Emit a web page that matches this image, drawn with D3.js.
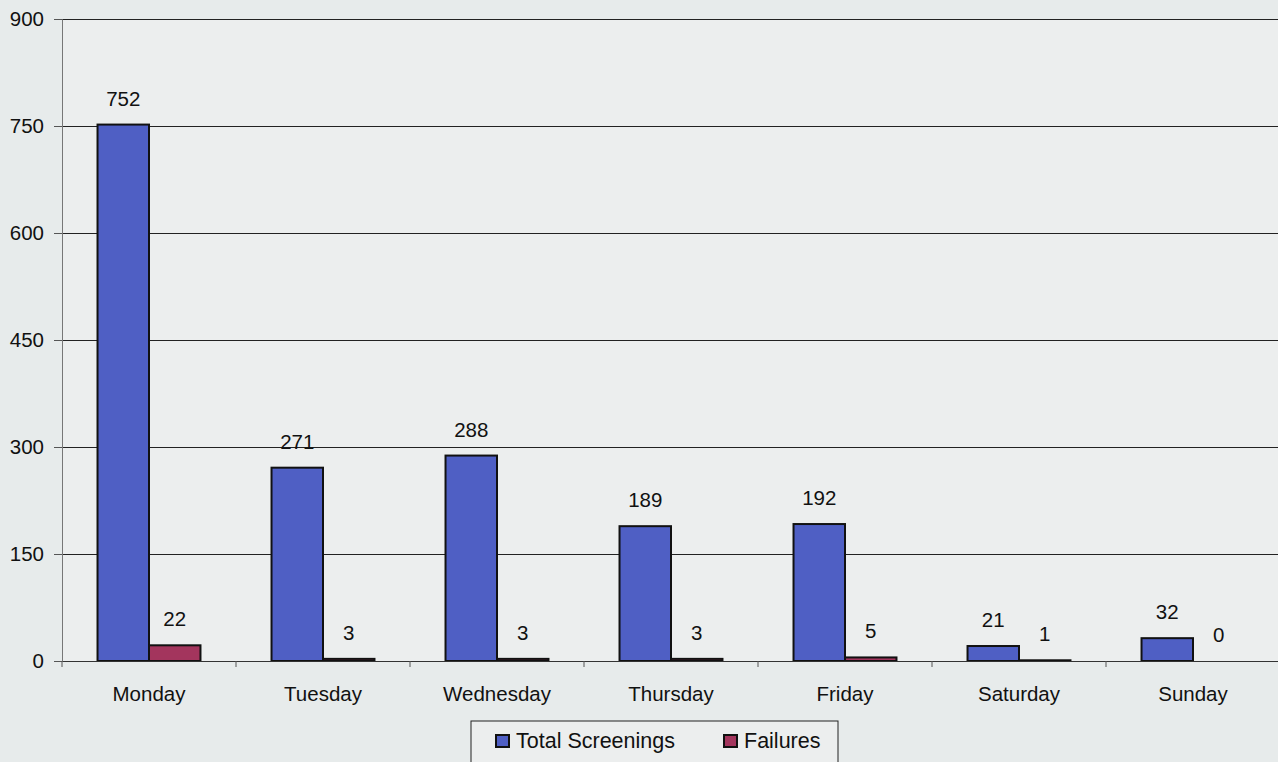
<!DOCTYPE html>
<html>
<head>
<meta charset="utf-8">
<script src="https://cdn.jsdelivr.net/npm/d3@7"></script>
<style>
  body { margin: 0; background: #e7ebeb; }
  svg { display: block; font-family: "Liberation Sans", Arial, sans-serif; }
</style>
</head>
<body>
<svg width="1278" height="762"></svg>
<script>
var days = ["Monday", "Tuesday", "Wednesday", "Thursday", "Friday", "Saturday", "Sunday"];
var totalScreenings = [752, 271, 288, 189, 192, 21, 32];
var failures = [22, 3, 3, 3, 5, 1, 0];
var seriesNames = ["Total Screenings", "Failures"];
var seriesColors = ["#4f5fc4", "#a3355d"];
var yTicks = [0, 150, 300, 450, 600, 750, 900];

var svg = d3.select("svg");
var margin = {left: 62, top: 19, right: -2, bottom: 101};
var width = +svg.attr("width");
var height = +svg.attr("height");

var x = d3.scaleBand()
    .domain(days)
    .range([margin.left, width - margin.right])
    .paddingInner(0).paddingOuter(0);

var x1 = d3.scaleBand()
    .domain(seriesNames)
    .range([0, x.bandwidth()])
    .paddingOuter(0.69).paddingInner(0);

var y = d3.scaleLinear()
    .domain([0, 900])
    .range([height - margin.bottom, margin.top]);

var rows = days.map(function (d, i) {
    return {day: d, values: [totalScreenings[i], failures[i]]};
});

// plot background
svg.append("rect")
    .attr("x", margin.left).attr("y", margin.top)
    .attr("width", width - margin.left)
    .attr("height", y(0) - margin.top)
    .attr("fill", "#eceeee");

// gridlines
svg.append("g")
    .attr("shape-rendering", "crispEdges")
    .selectAll("line")
    .data(yTicks.slice(1))
    .enter().append("line")
    .attr("x1", margin.left).attr("x2", width)
    .attr("y1", d => Math.round(y(d)) + 0.5).attr("y2", d => Math.round(y(d)) + 0.5)
    .attr("stroke", "#222").attr("stroke-width", 1);

// y axis
var yAxis = svg.append("g")
    .attr("transform", "translate(" + margin.left + ",0)")
    .call(d3.axisLeft(y).tickValues(yTicks).tickSize(8).tickPadding(10));
yAxis.select(".domain").attr("stroke", "#777");
yAxis.selectAll(".tick line").attr("stroke", "#555");
yAxis.selectAll("text").attr("font-size", 20.5).attr("fill", "#111").attr("font-family", "Liberation Sans, Arial, sans-serif");

// bars
var group = svg.append("g").selectAll("g")
    .data(rows)
    .enter().append("g")
    .attr("transform", d => "translate(" + x(d.day) + ",0)");

group.selectAll("rect")
    .data(d => d.values.map((v, i) => ({name: seriesNames[i], value: v, i: i})))
    .enter().append("rect")
    .attr("x", d => x1(d.name))
    .attr("y", d => y(d.value))
    .attr("width", x1.bandwidth())
    .attr("height", d => y(0) - y(d.value))
    .attr("fill", d => seriesColors[d.i])
    .attr("stroke", "#111")
    .attr("stroke-width", 2);

group.selectAll("text")
    .data(d => d.values.map((v, i) => ({name: seriesNames[i], value: v})))
    .enter().append("text")
    .attr("x", d => x1(d.name) + x1.bandwidth() / 2)
    .attr("y", d => y(d.value) - 19)
    .attr("text-anchor", "middle")
    .attr("font-size", 20.5)
    .attr("fill", "#111")
    .text(d => d.value);

// x axis
var xAxis = svg.append("g")
    .attr("transform", "translate(0," + y(0) + ")")
    .call(d3.axisBottom(x).tickSize(0).tickPadding(25));
xAxis.select(".domain").attr("stroke", "#333");
xAxis.selectAll("text").attr("font-size", 20.5).attr("fill", "#111").attr("font-family", "Liberation Sans, Arial, sans-serif");

// category separator ticks
svg.append("g").selectAll("line")
    .data(days)
    .enter().append("line")
    .attr("x1", d => x(d)).attr("x2", d => x(d))
    .attr("y1", y(0)).attr("y2", y(0) + 6)
    .attr("stroke", "#555");

// legend
var legend = svg.append("g").attr("transform", "translate(471,721)");
legend.append("rect")
    .attr("width", 367).attr("height", 42)
    .attr("fill", "#eceeee").attr("stroke", "#222").attr("stroke-width", 1);
var legendX = [25, 253];
seriesNames.forEach(function (n, i) {
    legend.append("rect")
        .attr("x", legendX[i]).attr("y", 14)
        .attr("width", 13).attr("height", 12)
        .attr("fill", seriesColors[i]).attr("stroke", "#111").attr("stroke-width", 2);
    legend.append("text")
        .attr("x", legendX[i] + 20).attr("y", 27)
        .attr("font-size", 21.5).attr("fill", "#111")
        .text(n);
});
</script>
</body>
</html>
